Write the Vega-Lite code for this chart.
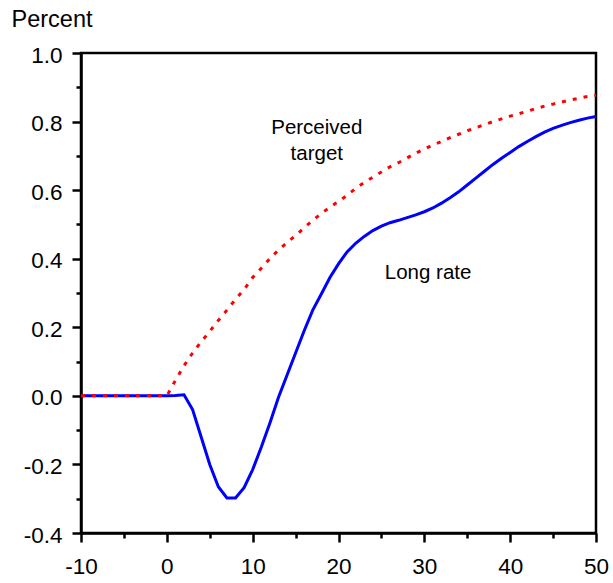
{
  "$schema": "https://vega.github.io/schema/vega-lite/v6.json",
  "autosize": {"type": "none"},
  "padding": {"left": 81, "top": 53, "right": 17, "bottom": 50},
  "width": 515,
  "height": 480,
  "background": "white",
  "config": {
    "view": {"stroke": "black", "strokeWidth": 2.5},
    "font": "Liberation Sans",
    "axis": {
      "grid": false,
      "domainColor": "black",
      "domainWidth": 2.5,
      "tickColor": "black",
      "tickWidth": 2.5,
      "labelFont": "Liberation Sans",
      "labelFontSize": 22.5,
      "labelColor": "black",
      "titleFont": "Liberation Sans",
      "titleFontSize": 23.5,
      "titleFontWeight": "normal",
      "titleColor": "black"
    }
  },
  "datasets": {
    "long": [
      {"t": -10, "v": 0}, {"t": -9, "v": 0}, {"t": -8, "v": 0}, {"t": -7, "v": 0}, {"t": -6, "v": 0},
      {"t": -5, "v": 0}, {"t": -4, "v": 0}, {"t": -3, "v": 0}, {"t": -2, "v": 0}, {"t": -1, "v": 0},
      {"t": 0, "v": 0}, {"t": 1, "v": 0.001}, {"t": 2, "v": 0.003}, {"t": 3, "v": -0.04}, {"t": 4, "v": -0.12},
      {"t": 5, "v": -0.2}, {"t": 6, "v": -0.265}, {"t": 7, "v": -0.298}, {"t": 8, "v": -0.298}, {"t": 9, "v": -0.268},
      {"t": 10, "v": -0.215}, {"t": 11, "v": -0.15}, {"t": 12, "v": -0.08}, {"t": 13, "v": -0.005}, {"t": 14, "v": 0.06},
      {"t": 15, "v": 0.125}, {"t": 16, "v": 0.19}, {"t": 17, "v": 0.25}, {"t": 18, "v": 0.297}, {"t": 19, "v": 0.345},
      {"t": 20, "v": 0.385}, {"t": 21, "v": 0.42}, {"t": 22, "v": 0.445}, {"t": 23, "v": 0.465}, {"t": 24, "v": 0.482},
      {"t": 25, "v": 0.495}, {"t": 26, "v": 0.505}, {"t": 27, "v": 0.512}, {"t": 28, "v": 0.52}, {"t": 29, "v": 0.528},
      {"t": 30, "v": 0.537}, {"t": 31, "v": 0.548}, {"t": 32, "v": 0.562}, {"t": 33, "v": 0.578}, {"t": 34, "v": 0.595},
      {"t": 35, "v": 0.615}, {"t": 36, "v": 0.635}, {"t": 37, "v": 0.655}, {"t": 38, "v": 0.675}, {"t": 39, "v": 0.693},
      {"t": 40, "v": 0.71}, {"t": 41, "v": 0.727}, {"t": 42, "v": 0.742}, {"t": 43, "v": 0.756}, {"t": 44, "v": 0.769},
      {"t": 45, "v": 0.78}, {"t": 46, "v": 0.789}, {"t": 47, "v": 0.797}, {"t": 48, "v": 0.804}, {"t": 49, "v": 0.81},
      {"t": 50, "v": 0.815}
    ],
    "target": [
      {"t": -10, "v": 0}, {"t": -9, "v": 0}, {"t": -8, "v": 0}, {"t": -7, "v": 0}, {"t": -6, "v": 0},
      {"t": -5, "v": 0}, {"t": -4, "v": 0}, {"t": -3, "v": 0}, {"t": -2, "v": 0}, {"t": -1, "v": 0},
      {"t": 0, "v": 0}, {"t": 1, "v": 0.045}, {"t": 2, "v": 0.088}, {"t": 3, "v": 0.125}, {"t": 4, "v": 0.158},
      {"t": 5, "v": 0.188}, {"t": 6, "v": 0.22}, {"t": 7, "v": 0.25}, {"t": 8, "v": 0.282}, {"t": 9, "v": 0.31},
      {"t": 10, "v": 0.345}, {"t": 11, "v": 0.372}, {"t": 12, "v": 0.4}, {"t": 13, "v": 0.425}, {"t": 14, "v": 0.447},
      {"t": 15, "v": 0.468}, {"t": 16, "v": 0.49}, {"t": 17, "v": 0.512}, {"t": 18, "v": 0.532}, {"t": 19, "v": 0.55},
      {"t": 20, "v": 0.567}, {"t": 21, "v": 0.585}, {"t": 22, "v": 0.605}, {"t": 23, "v": 0.622}, {"t": 24, "v": 0.638},
      {"t": 25, "v": 0.653}, {"t": 26, "v": 0.668}, {"t": 27, "v": 0.68}, {"t": 28, "v": 0.694}, {"t": 29, "v": 0.708},
      {"t": 30, "v": 0.72}, {"t": 31, "v": 0.732}, {"t": 32, "v": 0.742}, {"t": 33, "v": 0.753}, {"t": 34, "v": 0.763},
      {"t": 35, "v": 0.773}, {"t": 36, "v": 0.782}, {"t": 37, "v": 0.791}, {"t": 38, "v": 0.8}, {"t": 39, "v": 0.808},
      {"t": 40, "v": 0.816}, {"t": 41, "v": 0.823}, {"t": 42, "v": 0.83}, {"t": 43, "v": 0.838}, {"t": 44, "v": 0.845},
      {"t": 45, "v": 0.851}, {"t": 46, "v": 0.857}, {"t": 47, "v": 0.863}, {"t": 48, "v": 0.868}, {"t": 49, "v": 0.873},
      {"t": 50, "v": 0.877}
    ],
    "labels": [
      {"t": 17.47, "v": 0.763, "label": "Perceived"},
      {"t": 17.47, "v": 0.688, "label": "target"},
      {"t": 30.44, "v": 0.34, "label": "Long rate"}
    ]
  },
  "encoding": {
    "x": {
      "field": "t",
      "type": "quantitative",
      "scale": {"domain": [-10, 50], "nice": false, "zero": false},
      "axis": {
        "title": null,
        "values": [-10, -5, 0, 5, 10, 15, 20, 25, 30, 35, 40, 45, 50],
        "labelExpr": "datum.value % 10 == 0 ? '' + datum.value : ''",
        "tickSize": {"condition": {"test": "datum.value % 10 == 0", "value": 9}, "value": 5},
        "labelPadding": 13,
        "labelFlush": false,
        "labelOverlap": false
      }
    },
    "y": {
      "field": "v",
      "type": "quantitative",
      "scale": {"domain": [-0.4, 1.0], "nice": false, "zero": false},
      "axis": {
        "title": "Percent",
        "titleAngle": 0,
        "titleAlign": "left",
        "titleBaseline": "alphabetic",
        "titleX": -70,
        "titleY": -27,
        "values": [-0.4, -0.3, -0.2, -0.1, 0, 0.1, 0.2, 0.3, 0.4, 0.5, 0.6, 0.7, 0.8, 0.9, 1.0],
        "labelExpr": "round(datum.value * 10) % 2 == 0 ? (datum.value < -0.001 ? '-' : '') + format(abs(datum.value), '.1f') : ''",
        "tickSize": {"condition": {"test": "round(datum.value * 10) % 2 == 0", "value": 9}, "value": 5},
        "labelPadding": 10,
        "labelOffset": 2,
        "labelFlush": false,
        "labelOverlap": false
      }
    }
  },
  "layer": [
    {
      "data": {"name": "long"},
      "mark": {"type": "line", "color": "#0000FF", "strokeWidth": 3}
    },
    {
      "data": {"name": "target"},
      "mark": {"type": "line", "color": "#FF0000", "strokeWidth": 3, "strokeDash": [4, 7]}
    },
    {
      "data": {"name": "labels"},
      "mark": {"type": "text", "fontSize": 20.5, "font": "Liberation Sans", "color": "black", "align": "center", "baseline": "alphabetic"},
      "encoding": {"text": {"field": "label"}}
    }
  ]
}
